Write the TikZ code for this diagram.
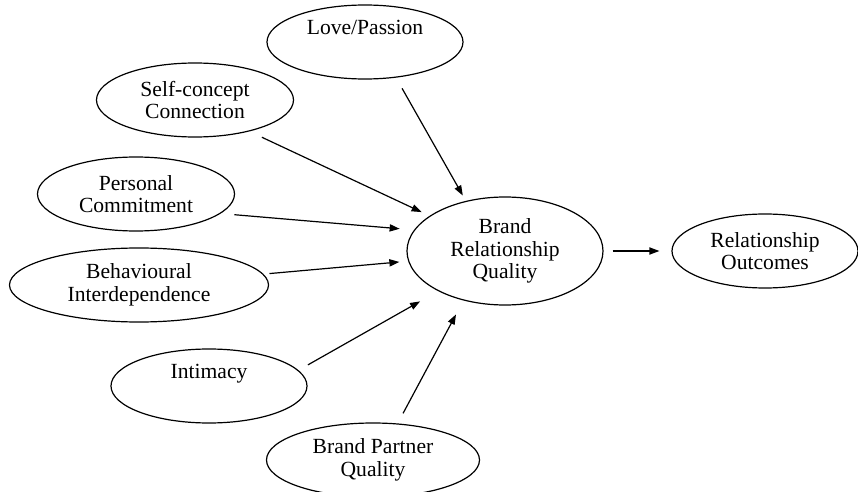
\documentclass[tikz,border=0pt]{standalone}
\usepackage{fontspec}
\setmainfont{Liberation Serif}
\usepackage{tikz}
\usetikzlibrary{shapes.geometric, arrows.meta}

\tikzset{
    construct/.style={ellipse, draw, line width=0.6pt, inner sep=0pt, align=center,
        minimum height=37pt, font=\fontsize{10.8pt}{11.25pt}\selectfont},
    path/.style={->, line width=0.6pt},
}

\begin{document}
\begin{tikzpicture}[x=0.5pt, y=-0.5pt, >={Triangle[length=5pt, width=3.6pt]}]
    \useasboundingbox (0, 0) rectangle (858, 492);

    \node[construct, minimum width=98pt] at (365, 42) (love) {Love/Passion\\\strut};
    \node[construct, minimum width=98.5pt] at (195, 100) (self) {Self-concept\\Connection};
    \node[construct, minimum width=98.5pt] at (136, 194) (commit) {Personal\\Commitment};
    \node[construct, minimum width=129.5pt] at (139, 285) (behav) {Behavioural\\Interdependence};
    \node[construct, minimum width=98pt] at (209, 386) (intim) {Intimacy\\\strut};
    \node[construct, minimum width=106.5pt] at (373, 460) (partner) {Brand Partner\\Quality};

    \node[construct, minimum width=98pt, minimum height=54pt] at (505, 251) (brq) {Brand\\Relationship\\Quality};
    \node[construct, minimum width=93pt] at (765, 251) (outcome) {Relationship\\Outcomes};

    \draw[path, shorten <=6.1pt, shorten >=3.1pt] (love.-49.7) -- (brq.128.2);
    \draw[path, shorten <=6.9pt, shorten >=4.4pt] (self.-30) -- (brq.155.8);
    \draw[path, shorten <=6.9pt, shorten >=7.2pt] (commit.-13.4) -- (brq.167.1);
    \draw[path, shorten <=3pt, shorten >=4.4pt] (behav.5.4) -- (brq.186.1);
    \draw[path, shorten <=5.4pt, shorten >=10.4pt] (intim.10.1) -- (brq.211.3);
    \draw[path, shorten <=5.7pt, shorten >=7.9pt] (partner.56.9) -- (brq.230.7);

    \draw[path, shorten <=4.5pt, shorten >=6pt] (brq.east) -- (outcome.west);
\end{tikzpicture}
\end{document}
